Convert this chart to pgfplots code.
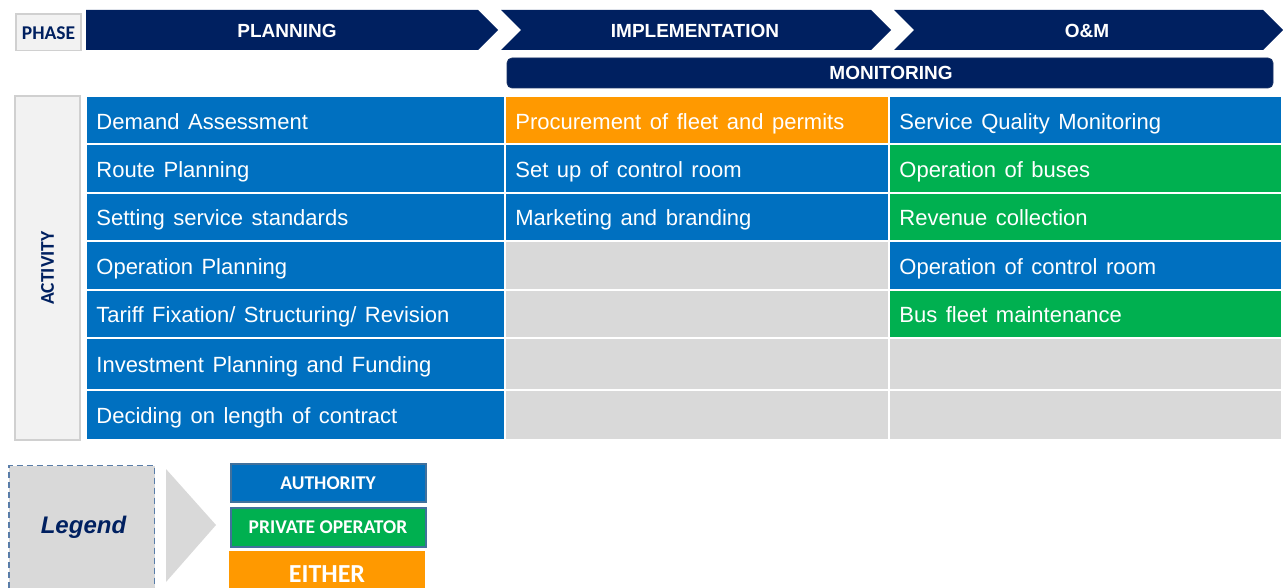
\documentclass[border=0pt]{standalone}
\usepackage{pgfplots}
\pgfplotsset{compat=1.18}
\usepackage{fontspec}
\setmainfont{Liberation Sans}
\newfontfamily\calibri{Carlito}
\newfontfamily\cellfam[WordSpace=1.4]{Liberation Sans}
\definecolor{cblue}{HTML}{0070C0}
\definecolor{cgreen}{HTML}{00B050}
\definecolor{corange}{HTML}{FF9900}
\definecolor{cgray}{HTML}{D9D9D9}
\definecolor{cnavy}{HTML}{002060}
\definecolor{clight}{HTML}{F2F2F2}
\definecolor{cedge}{HTML}{D0D0D0}
\definecolor{csteel}{HTML}{41719C}
\definecolor{cdash}{HTML}{5A7DA8}
\newcommand{\cell}[5]{\addplot[fill=#5, draw=white, line width=1pt] coordinates {(#1,#3) (#2,#3) (#2,#4) (#1,#4)} --cycle;}
\newcommand{\cfont}{\cellfam\fontsize{11}{13}\selectfont}
\begin{document}
\begin{tikzpicture}
\begin{axis}[scale only axis, width=641.5pt, height=294pt,
  xmin=0, xmax=1283, ymin=0, ymax=588, y dir=reverse, hide axis]
% invisible frame to fix the page size
\addplot[draw=none, fill=none] coordinates {(0,0) (1283,0) (1283,588) (0,588)} --cycle;
% header chevrons
\addplot[fill=cnavy, draw=none] coordinates {(86,10) (478,10) (498,30) (478,50) (86,50)} --cycle;
\addplot[fill=cnavy, draw=none] coordinates {(501,10) (871,10) (891,30) (871,50) (501,50) (521,30)} --cycle;
\addplot[fill=cnavy, draw=none] coordinates {(894,10) (1263,10) (1283,30) (1263,50) (894,50) (914,30)} --cycle;
% monitoring bar
\addplot[fill=cnavy, draw=cnavy!80!gray, line width=0.4pt, rounded corners=2.5pt] coordinates {(507,58) (1273,58) (1273,88) (507,88)} --cycle;
% phase & activity boxes
\addplot[fill=clight, draw=cedge, line width=0.6pt] coordinates {(16,14) (81,14) (81,50.5) (16,50.5)} --cycle;
\addplot[fill=clight, draw=cedge, line width=0.6pt] coordinates {(15,96) (80,96) (80,440) (15,440)} --cycle;
% table column 1
\cell{86}{504.5}{96}{144.5}{cblue}
\cell{86}{504.5}{144.5}{193}{cblue}
\cell{86}{504.5}{193}{241}{cblue}
\cell{86}{504.5}{241}{289.5}{cblue}
\cell{86}{504.5}{289.5}{338}{cblue}
\cell{86}{504.5}{338}{390}{cblue}
\cell{86}{504.5}{390}{439.5}{cblue}
% column 2
\cell{504.5}{889}{96}{144.5}{corange}
\cell{504.5}{889}{144.5}{193}{cblue}
\cell{504.5}{889}{193}{241}{cblue}
\cell{504.5}{889}{241}{289.5}{cgray}
\cell{504.5}{889}{289.5}{338}{cgray}
\cell{504.5}{889}{338}{390}{cgray}
\cell{504.5}{889}{390}{439.5}{cgray}
% column 3
\cell{889}{1282}{96}{144.5}{cblue}
\cell{889}{1282}{144.5}{193}{cgreen}
\cell{889}{1282}{193}{241}{cgreen}
\cell{889}{1282}{241}{289.5}{cblue}
\cell{889}{1282}{289.5}{338}{cgreen}
\cell{889}{1282}{338}{390}{cgray}
\cell{889}{1282}{390}{439.5}{cgray}
% legend
\addplot[fill=cgray, draw=cdash, line width=0.7pt, dash pattern=on 3pt off 2pt] coordinates {(9,588) (9,465.5) (154.5,465.5) (154.5,588)};
\addplot[fill=cgray, draw=none] coordinates {(166,469) (216,525) (166,582)} --cycle;
\addplot[fill=cblue, draw=csteel, line width=1pt] coordinates {(231,464) (425.5,464) (425.5,502) (231,502)} --cycle;
\addplot[fill=cgreen, draw=csteel, line width=1pt] coordinates {(231,508) (425.5,508) (425.5,546.5) (231,546.5)} --cycle;
\addplot[fill=corange, draw=none] coordinates {(229,551) (425,551) (425,588) (229,588)} --cycle;
% header texts
\node[text=white, font=\bfseries\fontsize{9.5}{11}\selectfont] at (287,30.5) {PLANNING};
\node[text=white, font=\bfseries\fontsize{9.5}{11}\selectfont] at (695,30.5) {IMPLEMENTATION};
\node[text=white, font=\bfseries\fontsize{9.5}{11}\selectfont] at (1087,30.5) {O\&M};
\node[text=white, font=\bfseries\fontsize{9.5}{11}\selectfont] at (891,73) {MONITORING};
\node[text=cnavy, font=\calibri\bfseries\fontsize{9.75}{11}\selectfont] at (48.5,33) {PHASE};
\node[text=cnavy, font=\calibri\bfseries\fontsize{9.75}{11}\selectfont, rotate=90] at (47.5,268) {ACTIVITY};
% cell texts
\node[anchor=base west, text=white, font=\cfont, inner sep=0pt] at (96,129.2) {Demand Assessment};
\node[anchor=base west, text=white, font=\cfont, inner sep=0pt] at (96,177.7) {Route Planning};
\node[anchor=base west, text=white, font=\cfont, inner sep=0pt] at (96,225.9) {Setting service standards};
\node[anchor=base west, text=white, font=\cfont, inner sep=0pt] at (96,274.2) {Operation Planning};
\node[anchor=base west, text=white, font=\cfont, inner sep=0pt] at (96,322.4) {Tariff Fixation/ Structuring/ Revision};
\node[anchor=base west, text=white, font=\cfont, inner sep=0pt] at (96,372.7) {Investment Planning and Funding};
\node[anchor=base west, text=white, font=\cfont, inner sep=0pt] at (96,423.5) {Deciding on length of contract};
\node[anchor=base west, text=white, font=\cfont, inner sep=0pt] at (515,129.2) {Procurement of fleet and permits};
\node[anchor=base west, text=white, font=\cfont, inner sep=0pt] at (515,177.7) {Set up of control room};
\node[anchor=base west, text=white, font=\cfont, inner sep=0pt] at (515,225.9) {Marketing and branding};
\node[anchor=base west, text=white, font=\cfont, inner sep=0pt] at (899,129.2) {Service Quality Monitoring};
\node[anchor=base west, text=white, font=\cfont, inner sep=0pt] at (899,177.7) {Operation of buses};
\node[anchor=base west, text=white, font=\cfont, inner sep=0pt] at (899,225.9) {Revenue collection};
\node[anchor=base west, text=white, font=\cfont, inner sep=0pt] at (899,274.2) {Operation of control room};
\node[anchor=base west, text=white, font=\cfont, inner sep=0pt] at (899,322.4) {Bus fleet maintenance};
% legend texts
\node[anchor=base, text=cnavy, font=\bfseries\itshape\fontsize{12}{14}\selectfont, inner sep=0pt] at (83.5,533.5) {Legend};
\node[text=white, font=\calibri\bfseries\fontsize{9.75}{11}\selectfont] at (328,483.5) {AUTHORITY};
\node[text=white, font=\calibri\bfseries\fontsize{9.75}{11}\selectfont] at (328,527) {PRIVATE OPERATOR};
\node[text=white, font=\calibri\bfseries\fontsize{13}{15}\selectfont] at (327,573.8) {EITHER};
\end{axis}
\end{tikzpicture}
\end{document}
